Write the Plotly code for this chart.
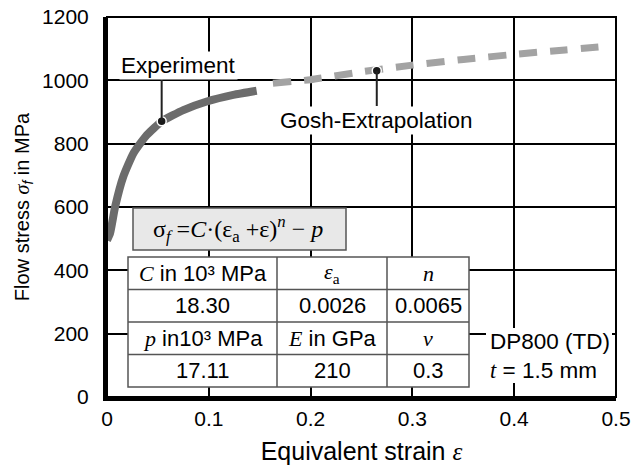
import plotly.graph_objects as go

# ---------------- data ----------------
strain_exp = [0.0, 0.003, 0.008, 0.016, 0.026, 0.039, 0.054, 0.075, 0.098, 0.124, 0.147]
stress_exp = [495, 517, 601, 696, 770, 827, 871, 906, 933, 954, 967]

strain_ext = [0.163, 0.2, 0.25, 0.3, 0.35, 0.4, 0.45, 0.495]
stress_ext = [991, 1002, 1027, 1048, 1066, 1082, 1096, 1109]

x_ticks = [0, 0.1, 0.2, 0.3, 0.4, 0.5]
x_tick_labels = ["0", "0.1", "0.2", "0.3", "0.4", "0.5"]
y_ticks = [0, 200, 400, 600, 800, 1000, 1200]
y_tick_labels = ["0", "200", "400", "600", "800", "1000", "1200"]

exp_label_point = (0.0537, 871)
ext_label_point = (0.265, 1030)

SER = "font-family:'Liberation Serif';font-style:italic"
table_rows = [
    [f"<span style=\"{SER}\">C</span> in 10³ MPa",
     f"<span style=\"{SER}\">ε</span><span style=\"font-family:'Liberation Serif'\"><sub>a</sub></span>",
     f"<span style=\"{SER}\">n</span>"],
    ["18.30", "0.0026", "0.0065"],
    [f"<span style=\"{SER}\">p</span> in10³ MPa",
     f"<span style=\"{SER}\">E</span> in GPa",
     f"<span style=\"{SER}\">ν</span>"],
    ["17.11", "210", "0.3"],
]
formula_text = "σ<sub><i>f</i></sub> =<i>C</i>·(ε<sub>a</sub> +ε)<sup><i>n</i></sup> − <i>p</i>"

# ---------------- layout geometry ----------------
W, H = 632, 470
L, R, T, B = 107, 16, 17, 73
XMAX, YMAX = 0.5, 1200


def px2x(px):
    return (px - L) / (W - L - R) * XMAX


def px2y(py):
    return (H - B - py) / (H - T - B) * YMAX


FONT = "Liberation Sans, Arial, sans-serif"

fig = go.Figure()

fig.add_trace(go.Scatter(x=strain_exp, y=stress_exp, mode="lines",
                         line=dict(color="#6c6c6c", width=8, shape="spline", smoothing=0.5),
                         hoverinfo="skip"))
fig.add_trace(go.Scatter(x=strain_ext, y=stress_ext, mode="lines",
                         line=dict(color="#a3a3a3", width=7, dash="18px,13px",
                                   shape="spline", smoothing=0.5),
                         hoverinfo="skip"))
fig.add_trace(go.Scatter(x=[exp_label_point[0], ext_label_point[0]],
                         y=[exp_label_point[1], ext_label_point[1]],
                         mode="markers",
                         marker=dict(color="#1a1a1a", size=9,
                                     line=dict(color="white", width=1.5)),
                         hoverinfo="skip"))

shapes = []
annotations = []

# leader lines
shapes.append(dict(type="line", xref="x", yref="y",
                   x0=exp_label_point[0], x1=exp_label_point[0],
                   y0=exp_label_point[1], y1=px2y(78),
                   line=dict(color="#222", width=2), layer="above"))
shapes.append(dict(type="line", xref="x", yref="y",
                   x0=ext_label_point[0], x1=ext_label_point[0],
                   y0=ext_label_point[1], y1=px2y(106),
                   line=dict(color="#222", width=2), layer="above"))

annotations.append(dict(x=px2x(178), y=px2y(65), xref="x", yref="y",
                        text="Experiment", showarrow=False, bgcolor="white",
                        borderpad=1, font=dict(family=FONT, size=22.5, color="black")))
annotations.append(dict(x=px2x(376), y=px2y(120), xref="x", yref="y",
                        text="Gosh-Extrapolation", showarrow=False, bgcolor="white",
                        borderpad=1, font=dict(family=FONT, size=22.5, color="black")))

# formula box
shapes.append(dict(type="rect", xref="x", yref="y",
                   x0=px2x(133), x1=px2x(346), y0=px2y(250), y1=px2y(208),
                   fillcolor="#e8e8e8", line=dict(color="#555", width=1.5), layer="above"))
annotations.append(dict(x=px2x(238), y=px2y(229), xref="x", yref="y",
                        text=formula_text, showarrow=False,
                        font=dict(family="Liberation Serif, Times New Roman, serif",
                                  size=24, color="black")))

# table
col_px = [128, 277, 387, 469]
row_px = [257, 289.5, 322, 354.5, 387]
shapes.append(dict(type="rect", xref="x", yref="y",
                   x0=px2x(col_px[0]), x1=px2x(col_px[-1]),
                   y0=px2y(row_px[-1]), y1=px2y(row_px[0]),
                   fillcolor="white", line=dict(color="#555", width=1.5), layer="above"))
for cx in col_px[1:-1]:
    shapes.append(dict(type="line", xref="x", yref="y", x0=px2x(cx), x1=px2x(cx),
                       y0=px2y(row_px[-1]), y1=px2y(row_px[0]),
                       line=dict(color="#555", width=1.5), layer="above"))
for ry in row_px[1:-1]:
    shapes.append(dict(type="line", xref="x", yref="y", x0=px2x(col_px[0]), x1=px2x(col_px[-1]),
                       y0=px2y(ry), y1=px2y(ry),
                       line=dict(color="#555", width=1.5), layer="above"))
for i, row in enumerate(table_rows):
    yc = px2y((row_px[i] + row_px[i + 1]) / 2)
    for j, txt in enumerate(row):
        xc = px2x((col_px[j] + col_px[j + 1]) / 2)
        annotations.append(dict(x=xc, y=yc, xref="x", yref="y", text=txt,
                                showarrow=False,
                                font=dict(family=FONT, size=22, color="black")))

# specimen label
shapes.append(dict(type="rect", xref="x", yref="y",
                   x0=px2x(486), x1=px2x(612), y0=px2y(383), y1=px2y(328),
                   fillcolor="white", line=dict(width=0), layer="above"))
annotations.append(dict(x=px2x(488), y=px2y(341), xref="x", yref="y",
                        text="DP800 (TD)", showarrow=False, xanchor="left",
                        font=dict(family=FONT, size=22.5, color="black")))
annotations.append(dict(x=px2x(488), y=px2y(370), xref="x", yref="y",
                        text="<span style=\"font-family:'Liberation Serif';font-style:italic\">t</span> = 1.5 mm",
                        showarrow=False, xanchor="left",
                        font=dict(family=FONT, size=22.5, color="black")))

# plot border (top/right)
shapes.append(dict(type="rect", xref="x domain", yref="y domain", x0=0, x1=1, y0=0, y1=1,
                   line=dict(color="black", width=2), layer="above"))

fig.update_layout(
    width=W, height=H,
    margin=dict(l=L, r=R, t=T, b=B, pad=0, autoexpand=False),
    paper_bgcolor="white", plot_bgcolor="white",
    showlegend=False,
    shapes=shapes, annotations=annotations,
    font=dict(family=FONT, size=20, color="black"),
)
fig.update_xaxes(range=[0, XMAX], tickvals=x_ticks, ticktext=x_tick_labels,
                 automargin=False,
                 showgrid=True, gridcolor="black", gridwidth=2,
                 showline=True, linecolor="black", linewidth=4, zeroline=False,
                 ticks="outside", ticklen=0, ticklabelstandoff=0,
                 tickfont=dict(family=FONT, size=21, color="black"),
                 title=dict(text="Equivalent strain <span style=\"font-family:'Liberation Serif';font-style:italic\">ε</span>",
                            font=dict(family=FONT, size=25, color="black"), standoff=14))
fig.update_yaxes(range=[0, YMAX], tickvals=y_ticks, ticktext=y_tick_labels,
                 automargin=False,
                 showgrid=True, gridcolor="black", gridwidth=2,
                 showline=True, linecolor="black", linewidth=4, zeroline=False,
                 ticks="outside", ticklen=0, ticklabelstandoff=10,
                 tickfont=dict(family=FONT, size=21, color="black"),
                 title=dict(text="Flow stress <span style=\"font-family:'Liberation Serif';font-style:italic\">σ</span><sub><i>f</i></sub> in MPa",
                            font=dict(family=FONT, size=20, color="black"), standoff=8))

fig.write_html("out.html")
